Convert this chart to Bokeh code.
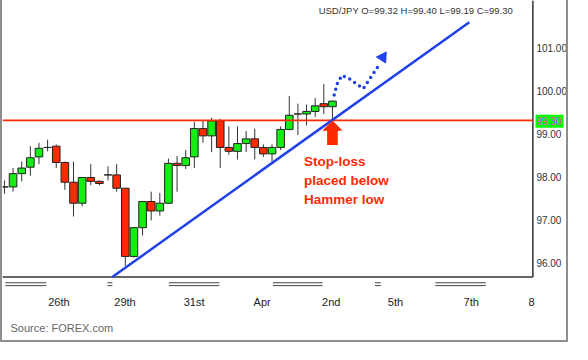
from bokeh.plotting import figure
from bokeh.models import (ColumnDataSource, FixedTicker, Title, Range1d)
from bokeh.embed import file_html
from bokeh.resources import INLINE
from bokeh.core.properties import value

# ---------------- data ----------------
opens  = [97.77, 97.77, 98.08, 98.23, 98.47, 98.69, 98.72, 98.34, 97.88, 97.39,
          97.99, 97.90, 98.05, 98.05, 97.74, 96.15, 96.82, 97.43, 97.21, 97.39,
          98.32, 98.27, 98.47, 99.13, 98.96, 99.31, 98.69, 98.60, 98.78, 98.89,
          98.69, 98.54, 98.69, 99.11, 99.47, 99.47, 99.53, 99.71, 99.64]
highs  = [97.92, 98.21, 98.36, 98.72, 98.80, 98.87, 98.76, 98.36, 98.36, 98.00,
          98.30, 97.92, 98.25, 98.30, 97.74, 96.83, 97.44, 97.66, 97.63, 98.43,
          98.49, 98.63, 99.29, 99.33, 99.38, 99.36, 99.18, 99.18, 99.07, 99.13,
          98.76, 98.76, 99.18, 99.89, 99.71, 99.69, 99.84, 100.17, 99.78]
lows   = [97.61, 97.66, 97.90, 98.03, 98.30, 98.60, 98.21, 97.70, 97.08, 97.32,
          97.81, 97.81, 97.92, 97.66, 95.93, 96.12, 96.64, 96.99, 97.10, 97.38,
          97.66, 98.19, 98.21, 98.80, 98.58, 98.21, 98.52, 98.41, 98.58, 98.41,
          98.47, 98.36, 98.63, 99.09, 98.98, 99.20, 99.40, 99.47, 99.31]
closes = [97.77, 98.08, 98.21, 98.45, 98.67, 98.69, 98.34, 97.88, 97.39, 97.99,
          97.90, 97.85, 98.05, 97.74, 96.15, 96.82, 97.43, 97.21, 97.39, 98.32,
          98.27, 98.45, 99.13, 98.96, 99.31, 98.69, 98.60, 98.78, 98.89, 98.69,
          98.54, 98.69, 99.11, 99.44, 99.47, 99.53, 99.66, 99.64, 99.77]

date_labels    = ["26th", "29th", "31st", "Apr", "2nd", "5th", "7th", "8"]
date_label_pos = [6.31, 13.97, 21.97, 29.86, 37.86, 45.3, 54.08, 61.07]
band_start     = [0.11, 11.94, 19.04, 31.1, 42.93, 49.92]
band_end       = [4.85, 12.51, 24.9, 36.85, 43.6, 55.77]

price_ticks = [96, 97, 98, 99, 100, 101]
price_tick_labels = ["96.00", "97.00", "98.00", "99.00", "100.00", "101.00"]
last_quote  = "USD/JPY O=99.32 H=99.40 L=99.19 C=99.30"
stop_level  = 99.32
tag_price   = 99.30
tag_label   = "99.30"
note_text   = "Stop-loss\nplaced below\nHammer low"

trend_k = [12.5, 53.86]
trend_v = [95.67, 101.61]

proj_k = [38.2, 38.54, 39.1, 39.89, 40.79, 41.58, 42.37, 43.27]
proj_v = [99.91, 100.17, 100.37, 100.30, 100.17, 100.06, 100.30, 100.57]

# ---------------- layout constants ----------------
X0, X1 = -0.2254, 65.58
Y0, Y1 = 95.426, 102.115
PLOT_BOTTOM = 95.669
RIGHT_LINE = 61.22
LABEL_X = 61.63
TAG_X = 63.15
HEADER_X, HEADER_Y = 36.4, 101.88
PXK, PXV = 8.875, 45.3    # reference pixels per candle / per yen

GREEN, RED, BLUE = "#14ee14", "#ff2a00", "#2141ea"
FONT = "Liberation Sans"

p = figure(width=568, height=342, output_backend="svg", toolbar_location=None,
           x_range=Range1d(X0, X1), y_range=Range1d(Y0, Y1),
           y_axis_location=None,
           min_border_left=0, min_border_top=0, min_border_right=0,
           min_border_bottom=52)
p.styles = {"border": "2px solid #8e8e8e", "border-top": "none"}
p.outline_line_color = None
p.xgrid.visible = False
p.ygrid.visible = False
p.background_fill_color = "white"
p.border_fill_color = "white"

# bottom date axis
xa = p.xaxis[0]
xa.ticker = FixedTicker(ticks=date_label_pos)
xa.major_label_overrides = {pos: lab for pos, lab in zip(date_label_pos, date_labels)}
xa.axis_line_color = None
xa.major_tick_line_color = None
xa.minor_tick_line_color = None
xa.major_label_standoff = 2
xa.major_label_text_font = FONT
xa.major_label_text_font_size = "11px"
xa.major_label_text_color = "#222222"

# frame lines
p.line([X0, RIGHT_LINE], [PLOT_BOTTOM, PLOT_BOTTOM], color="#333333", line_width=1.5)
p.line([RIGHT_LINE, RIGHT_LINE], [PLOT_BOTTOM, Y1], color="#333333", line_width=1.5)

# price scale labels (right side)
p.text(x=[LABEL_X] * len(price_ticks), y=price_ticks, text=price_tick_labels,
       text_font=value(FONT), text_font_size="10px", text_color="#333333",
       text_align="left", text_baseline="middle")

# day bands (double lines under plot)
for yy in (95.536, 95.47):
    p.segment(x0=band_start, y0=[yy] * len(band_start), x1=band_end,
              y1=[yy] * len(band_end), color="#444444", line_width=1)

# candles
idx = list(range(len(opens)))
src = ColumnDataSource(dict(
    x=idx, high=highs, low=lows,
    top=[max(o, c) for o, c in zip(opens, closes)],
    bottom=[min(o, c) for o, c in zip(opens, closes)],
    color=[GREEN if c > o else RED for o, c in zip(opens, closes)],
))
p.segment(x0="x", y0="low", x1="x", y1="high", source=src, color="#333333", line_width=1)
p.vbar(x="x", width=0.88, top="top", bottom="bottom", source=src,
       fill_color="color", line_color="#222222", line_width=1)

# stop line (stops at the price scale line)
p.line([X0, RIGHT_LINE], [stop_level, stop_level], color=RED, line_width=1.8)

# stop price tag on the scale
p.rect(x=[TAG_X], y=[tag_price], width=28, height=13, width_units="screen",
       height_units="screen", fill_color="#00ff00", line_color=None)
p.text(x=[LABEL_X], y=[tag_price], text=[tag_label], text_font=value(FONT),
       text_font_size="10px", text_color="#e040e0", text_align="left",
       text_baseline="middle")

# trend line
p.line(trend_k, trend_v, color=BLUE, line_width=2.5)

# projected path
p.line(proj_k, proj_v, color=BLUE, line_width=3.5, line_dash="0 6", line_cap="round")
p.scatter(x=[43.83], y=[100.79], marker="triangle", size=11, angle=-0.57,
          color=BLUE)

# red arrow below hammer
ak = idx[-1]
offs = [(0, 0), (10.5, 11), (5.5, 11), (5.5, 26), (-5.5, 26), (-5.5, 11), (-10.5, 11)]
p.patch([ak + dx / PXK for dx, dy in offs], [stop_level - dy / PXV for dx, dy in offs],
        color=RED, line_width=0)

# annotation text
p.text(x=[34.7], y=[97.92], text=[note_text], text_font=value(FONT),
       text_font_style="bold", text_font_size="13.5px", text_color=RED,
       text_align="left", text_baseline="middle", text_line_height=1.25)

# header
p.text(x=[HEADER_X], y=[HEADER_Y], text=[last_quote], text_font=value(FONT),
       text_font_size="9.5px", text_color="#333333", text_align="left",
       text_baseline="middle")

# source
p.add_layout(Title(text="Source: FOREX.com", align="left", offset=8,
                   text_font=FONT, text_font_size="11px", text_font_style="normal",
                   text_color="#666666", standoff=18), "below")

open("out.html", "w").write(file_html(p, INLINE))
